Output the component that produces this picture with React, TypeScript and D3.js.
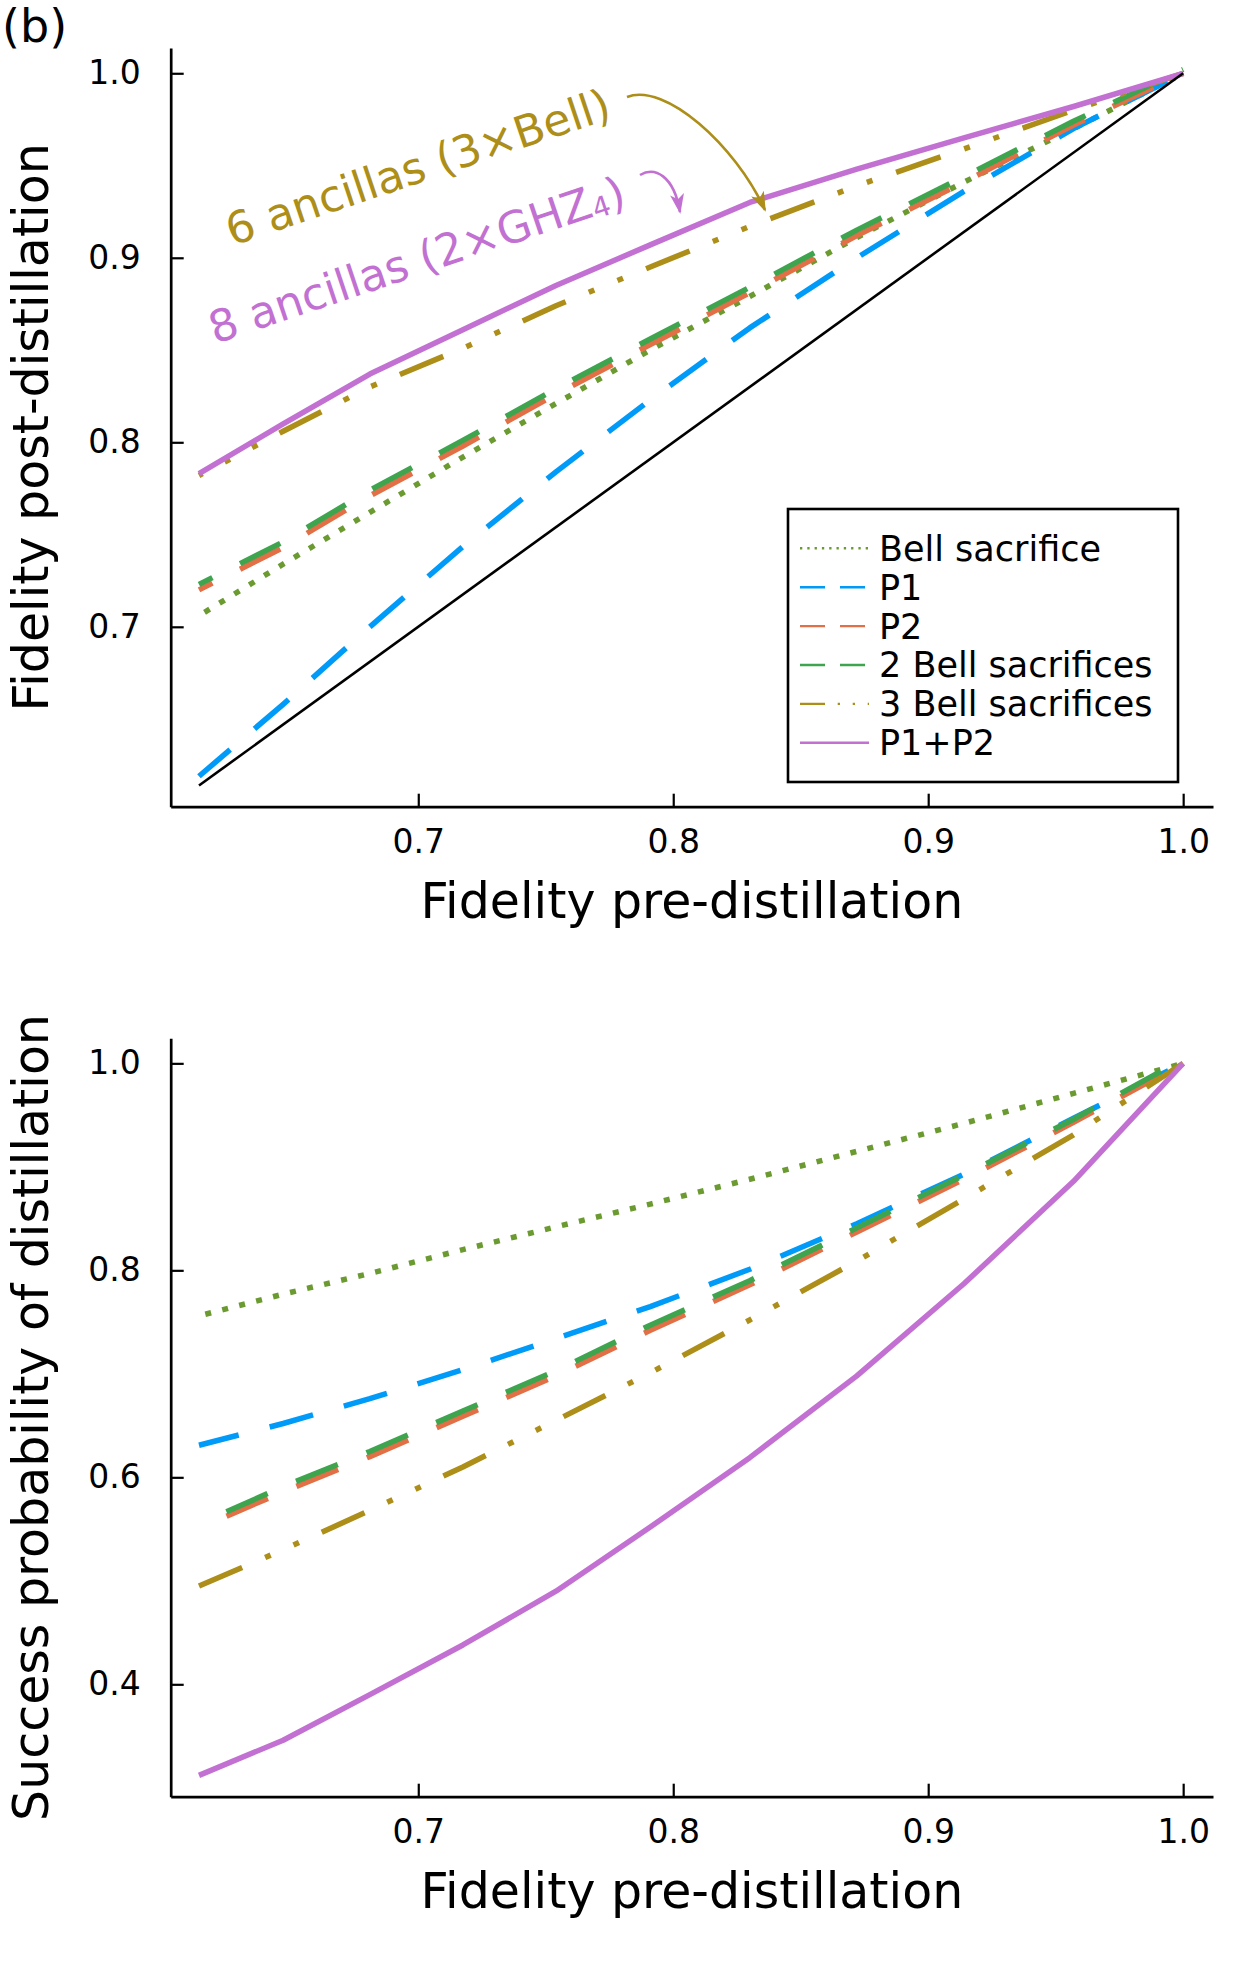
import * as d3 from 'd3';
import React, { Component } from 'react';

// input fidelity (sample points of every curve)
const fidelityIn = [0.614, 0.647, 0.681, 0.7175, 0.754, 0.791, 0.83, 0.872, 0.914, 0.957, 1.0];

// panel 1: fidelity after distillation
const postBellSacrifice = [0.706, 0.734, 0.762, 0.792, 0.821, 0.85, 0.879, 0.911, 0.941, 0.97, 1.0];
const postP1 = [0.619, 0.658, 0.7, 0.7435, 0.784, 0.823, 0.862, 0.9, 0.936, 0.97, 1.0];
const postP2 = [0.72, 0.743, 0.771, 0.798, 0.826, 0.853, 0.881, 0.912, 0.941, 0.972, 1.0];
const post2Bell = [0.723, 0.746, 0.774, 0.801, 0.829, 0.856, 0.884, 0.915, 0.944, 0.974, 1.002];
const post3Bell = [0.782, 0.806, 0.83, 0.851, 0.874, 0.895, 0.917, 0.939, 0.959, 0.98, 1.0];
const postP1P2 = [0.783, 0.81, 0.837, 0.861, 0.885, 0.907, 0.93, 0.948, 0.965, 0.982, 1.0];

// panel 2: success probability
const succBellSacrifice = [0.756, 0.777, 0.797, 0.82, 0.842, 0.864, 0.888, 0.915, 0.942, 0.971, 1.0];
const succP1 = [0.631, 0.652, 0.676, 0.704, 0.734, 0.765, 0.801, 0.845, 0.893, 0.947, 1.0];
const succP2 = [0.551, 0.586, 0.62, 0.659, 0.698, 0.742, 0.786, 0.837, 0.888, 0.943, 1.0];
const succ2Bell = [0.555, 0.591, 0.625, 0.664, 0.703, 0.747, 0.79, 0.841, 0.892, 0.946, 1.004];
const succ3Bell = [0.495, 0.53, 0.568, 0.61, 0.655, 0.701, 0.752, 0.809, 0.869, 0.931, 1.0];
const succP1P2 = [0.312, 0.346, 0.39, 0.438, 0.49, 0.552, 0.619, 0.698, 0.787, 0.886, 1.0];

const seriesNames = ['Bell sacrifice', 'P1', 'P2', '2 Bell sacrifices', '3 Bell sacrifices', 'P1+P2'];
const xTicks = [0.7, 0.8, 0.9, 1.0];
const topYTicks = [0.7, 0.8, 0.9, 1.0];
const bottomYTicks = [0.4, 0.6, 0.8, 1.0];

const seriesStyles = [
  { color: '#6a9a30', dash: '6,11.5', legendDash: '2.3,5' },
  { color: '#009af9', dash: '45,32', legendDash: '25,15' },
  { color: '#e26f46', dash: '45,31', legendDash: '25,15' },
  { color: '#3ea44e', dash: '45,31', legendDash: '25,15' },
  { color: '#ac8e18', dash: '47,25,6,25,6,25', legendDash: '25,12.7,2.3,12.7,2.3,12.7' },
  { color: '#c271d2', dash: null, legendDash: null },
];

const font = '"DejaVu Sans", sans-serif';
const width = 1260;
const height = 1980;
const plotLeft = 170.7;
const plotRight = 1213;
const xDomain = [0.6029, 1.0117];

class DistillationChart extends Component {
  private node: any;

  componentDidMount() {
    this.createChart();
  }

  componentDidUpdate() {
    this.createChart();
  }

  createChart() {
    const svg = d3.select(this.node);
    svg.selectAll('*').remove();
    svg.attr('width', width).attr('height', height);

    const defs = svg.append('defs');
    ['gold', 'purple'].forEach((name, i) => {
      defs
        .append('marker')
        .attr('id', 'arrow-' + name)
        .attr('viewBox', '0 0 20 14')
        .attr('refX', 18)
        .attr('refY', 7)
        .attr('markerWidth', 20)
        .attr('markerHeight', 14)
        .attr('markerUnits', 'userSpaceOnUse')
        .attr('orient', 'auto')
        .append('path')
        .attr('d', 'M0,0 L20,7 L0,14 L5,7 Z')
        .attr('fill', i === 0 ? seriesStyles[4].color : seriesStyles[5].color);
    });

    const x = d3.scaleLinear().domain(xDomain).range([plotLeft, plotRight]);

    // top panel
    drawPanel(
      svg,
      x,
      [postBellSacrifice, postP1, postP2, post2Bell, post3Bell, postP1P2],
      topYTicks,
      48,
      806.7,
      [0.6025, 1.0137],
      'Fidelity post-distillation',
      [11, 4, 30, 30, 43, 0],
      true,
    );
    drawLegend(svg);
    drawAnnotations(svg);

    // bottom panel
    drawPanel(
      svg,
      x,
      [succBellSacrifice, succP1, succP2, succ2Bell, succ3Bell, succP1P2],
      bottomYTicks,
      1038.3,
      1796.7,
      [0.2914, 1.0242],
      'Success probability of distillation',
      [11, 4, 46, 46, 0, 0],
      false,
    );

    svg
      .append('text')
      .attr('x', 2)
      .attr('y', 42)
      .attr('font-family', font)
      .attr('font-size', 46)
      .text('(b)');
  }

  render() {
    return (
      <svg
        ref={(node) => (this.node = node)}
        style={{ position: 'absolute', left: 0, top: 0, background: '#fff' }}
      />
    );
  }
}

function drawPanel(svg, x, values, yTicks, top, bottom, yDomain, yLabel, dashOffsets, identity) {
  const y = d3.scaleLinear().domain(yDomain).range([bottom, top]);
  const g = svg.append('g');

  const line = d3
    .line<number>()
    .x((d, j) => x(fidelityIn[j]))
    .y((d) => y(d));

  values.forEach((vals, i) => {
    const st = seriesStyles[i];
    g.append('path')
      .attr('d', line(vals))
      .attr('fill', 'none')
      .attr('stroke', st.color)
      .attr('stroke-width', 5.5)
      .attr('stroke-linejoin', 'round')
      .attr('stroke-dasharray', st.dash)
      .attr('stroke-dashoffset', dashOffsets[i]);
  });

  if (identity) {
    const diag = d3
      .line<number>()
      .x((d) => x(d))
      .y((d) => y(d));
    g.append('path')
      .attr('d', diag([fidelityIn[0], fidelityIn[fidelityIn.length - 1]]))
      .attr('fill', 'none')
      .attr('stroke', '#000')
      .attr('stroke-width', 2.6);
  }

  const yAxis = d3
    .axisLeft(y)
    .tickValues(yTicks)
    .tickFormat(d3.format('.1f'))
    .tickSizeInner(-13)
    .tickSizeOuter(0)
    .tickPadding(30);

  const xAxis = d3
    .axisBottom(x)
    .tickValues(xTicks)
    .tickFormat(d3.format('.1f'))
    .tickSizeInner(-13)
    .tickSizeOuter(0)
    .tickPadding(23);

  const ya = g
    .append('g')
    .attr('transform', 'translate(' + plotLeft + ',0)')
    .call(yAxis);
  const xa = g
    .append('g')
    .attr('transform', 'translate(0,' + bottom + ')')
    .call(xAxis);

  [ya, xa].forEach((a) => {
    a.attr('color', '#000').attr('font-family', font).attr('font-size', 33);
    a.select('.domain').attr('stroke-width', 2.7);
    a.selectAll('.tick line').attr('stroke-width', 2.2);
  });

  g.append('text')
    .attr('x', (plotLeft + plotRight) / 2)
    .attr('y', bottom + 111.3)
    .attr('text-anchor', 'middle')
    .attr('font-family', font)
    .attr('font-size', 49)
    .text('Fidelity pre-distillation');

  g.append('text')
    .attr('transform', 'translate(48,' + (top + bottom) / 2 + ') rotate(-90)')
    .attr('text-anchor', 'middle')
    .attr('font-family', font)
    .attr('font-size', 49)
    .text(yLabel);
}

function drawLegend(svg) {
  const g = svg.append('g');
  g.append('rect')
    .attr('x', 788)
    .attr('y', 509)
    .attr('width', 390)
    .attr('height', 273)
    .attr('fill', '#fff')
    .attr('stroke', '#000')
    .attr('stroke-width', 2.6);

  seriesNames.forEach((name, i) => {
    const base = 560.7 + i * 38.9;
    const st = seriesStyles[i];
    g.append('line')
      .attr('x1', 800)
      .attr('x2', 869)
      .attr('y1', base - 12.4)
      .attr('y2', base - 12.4)
      .attr('stroke', st.color)
      .attr('stroke-width', 2.4)
      .attr('stroke-dasharray', st.legendDash);
    g.append('text')
      .attr('x', 879)
      .attr('y', base)
      .attr('font-family', font)
      .attr('font-size', 35)
      .text(name);
  });
}

function drawAnnotations(svg) {
  const gold = seriesStyles[4].color;
  const purple = seriesStyles[5].color;
  const g = svg.append('g');

  g.append('text')
    .attr('transform', 'translate(232,246) rotate(-18.6)')
    .attr('font-family', font)
    .attr('font-size', 44)
    .attr('fill', gold)
    .text('6 ancillas (3×Bell)');

  const t = g
    .append('text')
    .attr('transform', 'translate(215,344) rotate(-18.6)')
    .attr('font-family', font)
    .attr('font-size', 44)
    .attr('fill', purple);
  t.append('tspan').text('8 ancillas (2×GHZ');
  t.append('tspan').attr('font-size', 28).attr('dy', 3).text('4');
  t.append('tspan').attr('dy', -3).text(')');

  g.append('path')
    .attr('d', 'M627,97 C665,82 735,145 765,210')
    .attr('fill', 'none')
    .attr('stroke', gold)
    .attr('stroke-width', 2.6)
    .attr('marker-end', 'url(#arrow-gold)');

  g.append('path')
    .attr('d', 'M640,175 C655,166 674,176 680,212')
    .attr('fill', 'none')
    .attr('stroke', purple)
    .attr('stroke-width', 2.6)
    .attr('marker-end', 'url(#arrow-purple)');
}

export default function App() {
  return <DistillationChart />;
}
